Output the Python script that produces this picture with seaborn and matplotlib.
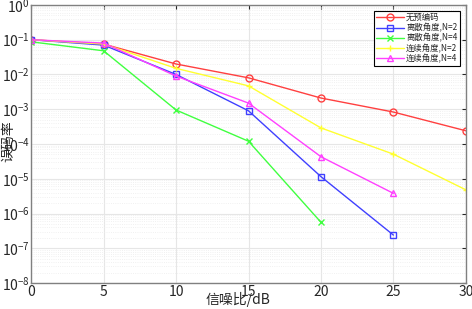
import numpy as np
import pandas as pd
import matplotlib
matplotlib.use("Agg")
import matplotlib.pyplot as plt
import seaborn as sns
from matplotlib.ticker import LogLocator, NullFormatter

snr = [0, 5, 10, 15, 20, 25, 30]

# BER
ber_none = [0.1, 0.075, 0.02, 0.008, 0.0021, 8.3e-4, 2.4e-4]
ber_disc2 = [0.1, 0.07, 0.01, 9e-4, 1.15e-5, 2.4e-7]
ber_disc4 = [0.087, 0.048, 9.5e-4, 1.2e-4, 5.6e-7]
ber_cont2 = [0.1, 0.075, 0.015, 0.0047, 2.9e-4, 5.1e-5, 4.8e-6]
ber_cont4 = [0.1, 0.08, 0.009, 1.5e-3, 4.3e-5, 3.8e-6]

labels = ["无预编码", "离散角度,N=2", "离散角度,N=4", "连续角度,N=2", "连续角度,N=4"]
series = [ber_none, ber_disc2, ber_disc4, ber_cont2, ber_cont4]
colors = ["#FF4040", "#4040FF", "#40FF40", "#FFFF30", "#FF40FF"]
markers = ["o", "s", "x", "+", "^"]

sns.set_style("white")
plt.rcParams['font.family'] = ['Noto Sans CJK SC', 'DejaVu Sans']
plt.rcParams['mathtext.fontset'] = 'dejavusans'

fig = plt.figure(figsize=(4.72, 3.09), dpi=100)
ax = fig.add_axes([0.066, 0.084, 0.921, 0.9])

for lab, vals, c, m in zip(labels, series, colors, markers):
    df = pd.DataFrame({"snr": snr[:len(vals)], "ber": vals})
    filled = m in ("x", "+")
    sns.lineplot(data=df, x="snr", y="ber", ax=ax, color=c, marker=m,
                 linewidth=1.0, markersize=5,
                 markerfacecolor=c if filled else "none",
                 markeredgecolor=c, markeredgewidth=1.0, label=lab)

ax.set_yscale("log")
ax.set_xlim(0, 30)
ax.set_ylim(1e-8, 1)
ax.set_xticks([0, 5, 10, 15, 20, 25, 30])
ax.yaxis.set_major_locator(LogLocator(base=10, numticks=20))
ax.yaxis.set_minor_locator(LogLocator(base=10, subs=np.arange(2, 10), numticks=20))
ax.yaxis.set_minor_formatter(NullFormatter())

ax.grid(True, which="major", color="#e6e6e6", linewidth=0.8)
ax.grid(True, which="minor", axis="y", color="#ececec", linestyle=":", linewidth=0.6)
ax.tick_params(which="both", direction="in", top=True, right=True, labelsize=10, length=3)
ax.tick_params(axis="x", pad=1.5)
ax.tick_params(axis="y", pad=1)
ax.tick_params(which="minor", length=0)
for s in ax.spines.values():
    s.set_color("#808080")
    s.set_linewidth(1.0)

ax.set_xlabel("信噪比/dB", fontsize=10, va="center")
ax.xaxis.set_label_coords(0.476, -0.058)
ax.set_ylabel("误码率", fontsize=10, va="center")
ax.yaxis.set_label_coords(-0.052, 0.51)

leg = ax.legend(loc="upper right", fontsize=6, fancybox=False, framealpha=1,
                edgecolor="black", borderpad=0.3, labelspacing=0.12, handlelength=3.4,
                handletextpad=0.2, borderaxespad=0.7)
leg.get_frame().set_linewidth(0.8)

fig.savefig("out.png", dpi=100)
